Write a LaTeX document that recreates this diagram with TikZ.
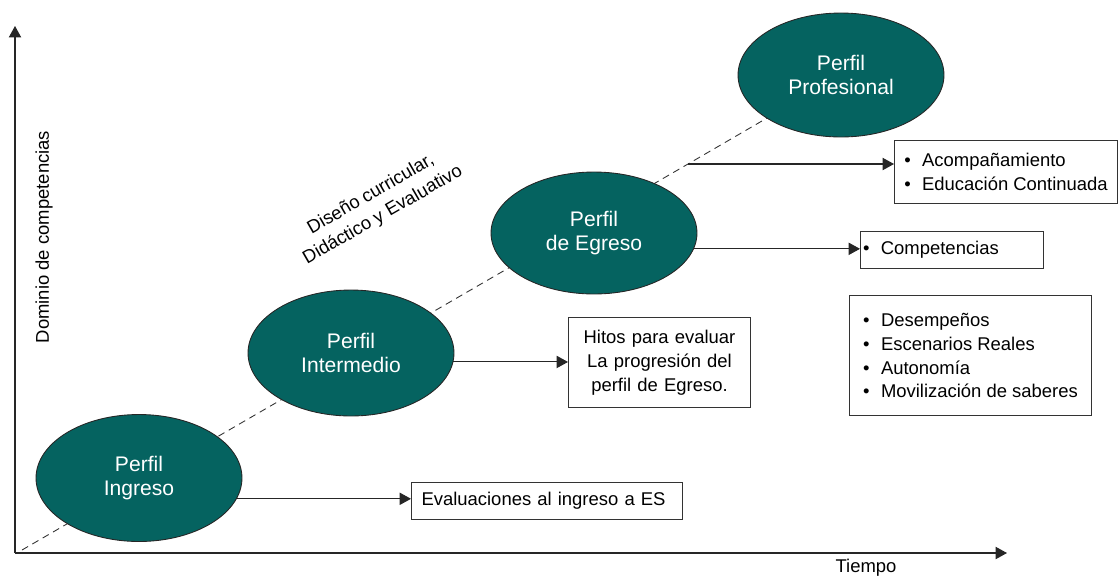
\documentclass[tikz,border=0pt]{standalone}
\usepackage{fontspec}
\setmainfont{Liberation Sans}
\usetikzlibrary{arrows.meta,shapes.geometric,backgrounds}
\definecolor{perfilverde}{RGB}{5,99,96}
\newcommand{\punto}{\textbullet\hspace{6.5pt}}
\begin{document}
\begin{tikzpicture}[x=0.02cm,y=-0.02cm,font=\fontsize{10.5}{13.6}\selectfont,
        perfil/.style={ellipse,draw=black!85,line width=0.5pt,fill=perfilverde,text=white,
            align=center,minimum width=4.12cm,font=\fontsize{12}{13.6}\selectfont},
        caja/.style={draw=black!80,line width=0.6pt,anchor=north west,align=left,inner ysep=0pt},
        flecha/.style={-{Triangle[length=6.5pt,width=7pt]},black!85,line width=0.6pt}]
    \useasboundingbox (0,0) rectangle (1119,576);
    \coordinate (origen) at (15,553);
    \coordinate (ytope) at (15,26);
    \coordinate (xtope) at (1007,553);
    \draw[flecha] (origen) -- (ytope);
    \draw[flecha] (origen) -- (xtope);
    \node[rotate=90] (dominio) at (44,237) {Dominio de competencias};
    \node (tiempo) at (866,568) {Tiempo};
    \node[rotate=30,align=center] (diseno) at (377,205) {Diseño curricular,\\Didáctico y Evaluativo};

    \node[perfil,minimum height=2.54cm] (ing) at (139,478) {Perfil\\Ingreso};
    \node[perfil,minimum height=2.52cm] (inter) at (351,353) {Perfil\\Intermedio};
    \node[perfil,minimum height=2.44cm] (egr) at (594,233) {Perfil\\de Egreso};
    \node[perfil,minimum height=2.48cm] (prof) at (841,75) {Perfil\\Profesional};

    \coordinate (inicio) at (22,550);
    \coordinate (knick) at (688,164);
    \begin{pgfonlayer}{background}
        \draw[black!80,line width=0.5pt,dash pattern=on 4pt off 2.8pt] (inicio) -- (knick) -- (prof.center);
    \end{pgfonlayer}

    \node[caja,minimum width=5.42cm,minimum height=0.74cm,inner xsep=0.2cm,text width=5.02cm] (eval) at (411,482) {Evaluaciones al ingreso a ES};
    \node[caja,align=center,minimum width=3.64cm,minimum height=1.8cm,inner xsep=0.1cm,text width=3.44cm] (hitos) at (568,317) {Hitos para evaluar\\La progresión del\\perfil de Egreso.};
    \node[caja,minimum width=3.66cm,minimum height=0.74cm,inner xsep=0.05cm,text width=3.56cm] (comp) at (860,231) {\punto Competencias};
    \node[caja,minimum width=4.46cm,minimum height=1.26cm] (acomp) at (894,140) {\punto Acompañamiento\\\punto Educación Continuada};
    \node[caja,minimum width=4.84cm,minimum height=2.4cm] (desemp) at (849,295) {\punto Desempeños\\\punto Escenarios Reales\\\punto Autonomía\\\punto Movilización de saberes};

    \draw[flecha] (ing.-12) -- (ing.-12 -| eval.west);
    \draw[flecha] (inter.-5) -- (inter.-5 -| hitos.west);
    \draw[flecha] (egr.-9) -- (egr.-9 -| comp.west);
    \draw[flecha] (knick) -- (knick -| acomp.west);
\end{tikzpicture}
\end{document}
